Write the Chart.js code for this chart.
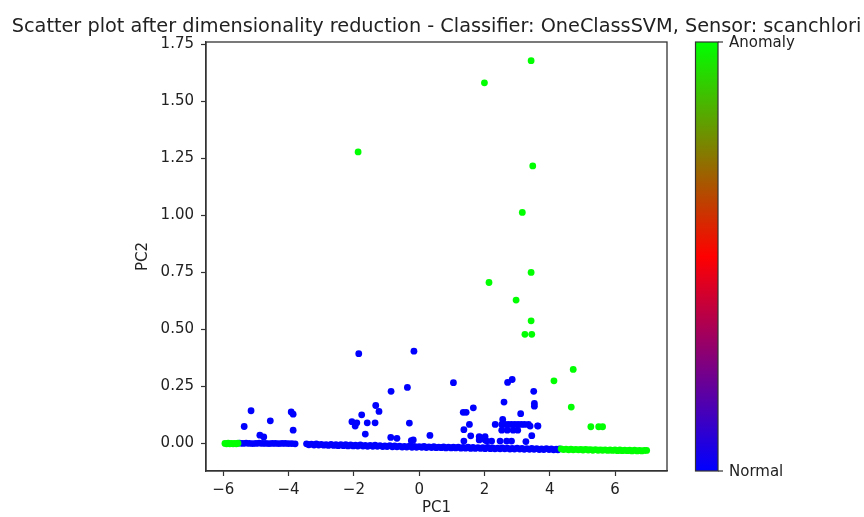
<!DOCTYPE html>
<html>
<head>
<meta charset="utf-8">
<script src="https://cdn.jsdelivr.net/npm/chart.js@4.4.1/dist/chart.umd.min.js"></script>
<style>
  html, body { margin: 0; padding: 0; background: #fff; }
  #wrap { width: 864px; height: 517px; position: relative; }
</style>
</head>
<body>
<div id="wrap"><canvas id="scatterChart"></canvas></div>
<script>
const titleText = 'Scatter plot after dimensionality reduction - Classifier: OneClassSVM, Sensor: scanchlori';
const xTicks = [-6, -4, -2, 0, 2, 4, 6];
const yTicks = [0, 0.25, 0.5, 0.75, 1.0, 1.25, 1.5, 1.75];
const cbarLabels = ['Normal', 'Anomaly'];   // colorbar value 0 and 1

// class 0 = normal (blue)
const normalPC1 = [
  // band near y=0, left
  -5.50, -5.40, -5.30, -5.20, -5.10, -5.00, -4.90, -4.80, -4.70, -4.60, -4.50, -4.40, -4.30, -4.20, -4.10, -4.00, -3.90, -3.80,
  // main band, upper row
  -3.45, -3.30, -3.15, -3.00, -2.85, -2.70, -2.55, -2.40, -2.25, -2.10, -1.95, -1.80, -1.65, -1.50, -1.35, -1.20, -1.05, -0.90,
  -0.75, -0.60, -0.45, -0.30, -0.15, 0.00, 0.15, 0.30, 0.45, 0.60, 0.75, 0.90, 1.05, 1.20, 1.35, 1.50, 1.65, 1.80,
  1.95, 2.10, 2.25, 2.40, 2.55, 2.70, 2.85, 3.00, 3.15, 3.30, 3.45, 3.60, 3.75, 3.90, 4.05, 4.20, 4.30,
  // main band, lower row
  -3.38, -3.22, -3.08, -2.92, -2.78, -2.62, -2.48, -2.32, -2.18, -2.02, -1.88, -1.72, -1.58,
  -1.42, -1.28, -1.12, -0.98, -0.82, -0.68, -0.52, -0.38, -0.22, -0.08, 0.08, 0.22, 0.38,
  0.52, 0.68, 0.82, 0.98, 1.12, 1.28, 1.42, 1.58, 1.72, 1.88, 2.02, 2.18, 2.32,
  2.48, 2.62, 2.78, 2.92, 3.08, 3.22, 3.38, 3.52, 3.68, 3.82, 3.98, 4.12, 4.25,
  // scattered
  -5.15, -5.36, -4.56, -3.92, -3.86, -3.86, -4.88, -4.76,
  -1.85, -0.16, -0.86, -0.36, -1.33, -1.23, -1.76, -2.06, -1.91, -1.96, -1.59, -1.35, -1.65, -0.30, -0.87, -0.68, -0.18, -0.24, 0.33,
  1.05, 2.71, 2.85, 3.51, 3.53, 3.53, 2.60, 1.35, 1.44, 1.66, 3.11, 1.54, 1.37, 1.58, 1.37, 1.84, 2.02, 1.84, 2.02,
  2.33, 2.53, 2.63, 2.73, 2.83, 2.93, 3.03, 3.13, 3.23, 3.35, 2.56, 3.63,
  2.53, 2.70, 2.88, 3.02, 2.48, 2.68, 2.83, 3.27, 2.07, 2.22, 3.40, 3.64, 3.45
];
const normalPC2 = [
  0.001, 0.000, 0.001, 0.000, -0.001, 0.000, 0.001, 0.000, 0.000, -0.001, 0.000, 0.000, -0.001, 0.000, 0.000, -0.001, -0.001, -0.002,
  -0.002, -0.003, -0.002, -0.004, -0.005, -0.004, -0.006, -0.006, -0.005, -0.007, -0.008, -0.007, -0.009, -0.009, -0.008, -0.010, -0.011, -0.010,
  -0.011, -0.012, -0.013, -0.012, -0.013, -0.014, -0.013, -0.015, -0.014, -0.016, -0.015, -0.016, -0.017, -0.016, -0.018, -0.017, -0.018, -0.019,
  -0.019, -0.018, -0.020, -0.021, -0.020, -0.021, -0.022, -0.021, -0.022, -0.023, -0.022, -0.023, -0.024, -0.023, -0.024, -0.025, -0.024,
  -0.006, -0.007, -0.007, -0.008, -0.009, -0.009, -0.010, -0.010, -0.011, -0.011, -0.012, -0.012, -0.013,
  -0.013, -0.013, -0.014, -0.014, -0.015, -0.015, -0.016, -0.016, -0.017, -0.017, -0.017, -0.018, -0.018,
  -0.019, -0.019, -0.020, -0.020, -0.020, -0.021, -0.021, -0.022, -0.022, -0.022, -0.023, -0.023, -0.024,
  -0.024, -0.024, -0.025, -0.025, -0.025, -0.026, -0.026, -0.026, -0.027, -0.027, -0.027, -0.028, -0.028,
  0.143, 0.074, 0.099, 0.138, 0.128, 0.058, 0.036, 0.028,
  0.393, 0.404, 0.228, 0.245, 0.166, 0.140, 0.125, 0.095, 0.090, 0.076, 0.090, 0.090, 0.041, 0.089, 0.026, 0.022, 0.015, 0.012, 0.035,
  0.266, 0.267, 0.280, 0.228, 0.175, 0.163, 0.181, 0.136, 0.136, 0.156, 0.130, 0.083, 0.060, 0.033, 0.010, 0.030, 0.030, 0.015, 0.015,
  0.083, 0.083, 0.083, 0.083, 0.083, 0.083, 0.083, 0.083, 0.083, 0.083, 0.105, 0.077,
  0.058, 0.058, 0.058, 0.058, 0.010, 0.010, 0.010, 0.008, 0.010, 0.010, 0.076, 0.076, 0.034
];

// class 1 = anomaly (green)
const anomalyPC1 = [
  -5.95, -5.85, -5.75, -5.65, -5.55, -5.90, -5.80, -5.70, -5.60,
  4.35, 4.50, 4.65, 4.80, 4.95, 5.10, 5.25, 5.40, 5.55, 5.70, 5.85, 6.00, 6.15, 6.30, 6.45, 6.60, 6.75, 6.90, 6.97,
  4.42, 4.58, 4.72, 4.88, 5.02, 5.18, 5.32, 5.48, 5.62, 5.78, 5.92, 6.08, 6.22, 6.38, 6.52, 6.68, 6.82,
  3.43, 2.00, -1.87, 3.48, 3.16, 3.43, 2.14, 2.97, 3.43, 3.24, 3.45, 4.72, 4.13, 4.66, 5.26, 5.50, 5.62
];
const anomalyPC2 = [
  0.000, 0.001, 0.000, 0.000, 0.001, -0.002, -0.002, -0.002, -0.002,
  -0.024, -0.025, -0.025, -0.026, -0.026, -0.026, -0.027, -0.027, -0.028, -0.028, -0.028, -0.029, -0.029, -0.030, -0.030, -0.030, -0.031, -0.031, -0.031,
  -0.027, -0.028, -0.028, -0.028, -0.029, -0.029, -0.030, -0.030, -0.030, -0.031, -0.031, -0.032, -0.032, -0.032, -0.033, -0.033, -0.033,
  1.677, 1.580, 1.277, 1.216, 1.012, 0.749, 0.705, 0.628, 0.537, 0.478, 0.478, 0.324, 0.274, 0.159, 0.073, 0.073, 0.073
];

// blue -> red -> green colormap
function cmap(t) {
  let r, g, b;
  if (t <= 0.5) { const k = t / 0.5; r = 255 * k; g = 0; b = 255 * (1 - k); }
  else { const k = (t - 0.5) / 0.5; r = 255 * (1 - k); g = 255 * k; b = 0; }
  return `rgb(${Math.round(r)},${Math.round(g)},${Math.round(b)})`;
}

function toPoints(xs, ys) {
  return xs.map((x, i) => ({ x: x, y: ys[i] }));
}

const frameColor = '#333';
const textColor = '#222';
const FONT = 'DejaVu Sans';

const extras = {
  id: 'extras',
  afterDraw(chart) {
    const ctx = chart.ctx;
    const a = chart.chartArea;
    ctx.save();
    // frame
    ctx.strokeStyle = frameColor;
    ctx.lineWidth = 1.3;
    ctx.strokeRect(a.left, a.top, a.right - a.left, a.bottom - a.top);

    // title
    ctx.fillStyle = textColor;
    ctx.font = '19.3px "' + FONT + '"';
    ctx.textAlign = 'center';
    ctx.textBaseline = 'alphabetic';
    ctx.fillText(titleText, (a.left + a.right) / 2, 31.5);

    // colorbar
    const cx = 695.5, cw = 22.5, top = a.top, bot = a.bottom;
    const grad = ctx.createLinearGradient(0, bot, 0, top);
    grad.addColorStop(0, cmap(0));
    grad.addColorStop(0.5, cmap(0.5));
    grad.addColorStop(1, cmap(1));
    ctx.fillStyle = grad;
    ctx.fillRect(cx, top, cw, bot - top);
    ctx.strokeStyle = frameColor;
    ctx.lineWidth = 1.2;
    ctx.strokeRect(cx, top, cw, bot - top);

    ctx.font = '15px "' + FONT + '"';
    ctx.textAlign = 'left';
    ctx.textBaseline = 'middle';
    ctx.fillStyle = textColor;
    cbarLabels.forEach((lab, i) => {
      const y = bot + (top - bot) * i;
      ctx.beginPath();
      ctx.moveTo(cx + cw, y);
      ctx.lineTo(cx + cw + 5, y);
      ctx.stroke();
      ctx.fillText(lab, cx + cw + 11, y + 1);
    });
    ctx.restore();
  }
};

const ctx = document.getElementById('scatterChart').getContext('2d');
const chart = new Chart(ctx, {
  type: 'scatter',
  data: {
    datasets: [
      {
        label: 'Anomaly',
        data: toPoints(anomalyPC1, anomalyPC2),
        backgroundColor: cmap(1),
        borderWidth: 0,
        pointRadius: 3.4
      },
      {
        label: 'Normal',
        data: toPoints(normalPC1, normalPC2),
        backgroundColor: cmap(0),
        borderWidth: 0,
        pointRadius: 3.4
      }
    ]
  },
  options: {
    responsive: true,
    maintainAspectRatio: false,
    animation: false,
    devicePixelRatio: 1,
    layout: { padding: { top: 42, right: 197, bottom: 0, left: 134 } },
    plugins: {
      legend: { display: false },
      tooltip: { enabled: false },
      title: { display: false }
    },
    scales: {
      x: {
        type: 'linear',
        min: -6.53,
        max: 7.593,
        afterFit: s => { s.height = 46; },
        afterBuildTicks: s => { s.ticks = xTicks.map(v => ({ value: v })); },
        grid: { drawOnChartArea: false, drawTicks: true, tickLength: 5, tickColor: frameColor, tickWidth: 1.2 },
        border: { display: true, color: frameColor, width: 1.3 },
        ticks: {
          color: textColor,
          padding: 5,
          font: { family: FONT, size: 15 },
          maxRotation: 0,
          callback: v => (v < 0 ? '\u2212' + Math.abs(v) : String(v))
        },
        title: { display: true, text: 'PC1', color: textColor, font: { family: FONT, size: 15 }, padding: 0 }
      },
      y: {
        type: 'linear',
        min: -0.121,
        max: 1.7588,
        afterFit: s => { s.width = 72; },
        afterBuildTicks: s => { s.ticks = yTicks.map(v => ({ value: v })); },
        grid: { drawOnChartArea: false, drawTicks: true, tickLength: 5, tickColor: frameColor, tickWidth: 1.2 },
        border: { display: true, color: frameColor, width: 1.3 },
        ticks: {
          color: textColor,
          padding: 7,
          font: { family: FONT, size: 15 },
          callback: v => v.toFixed(2)
        },
        title: { display: true, text: 'PC2', color: textColor, font: { family: FONT, size: 15 }, padding: 0 }
      }
    }
  },
  plugins: [extras]
});
</script>
</body>
</html>
